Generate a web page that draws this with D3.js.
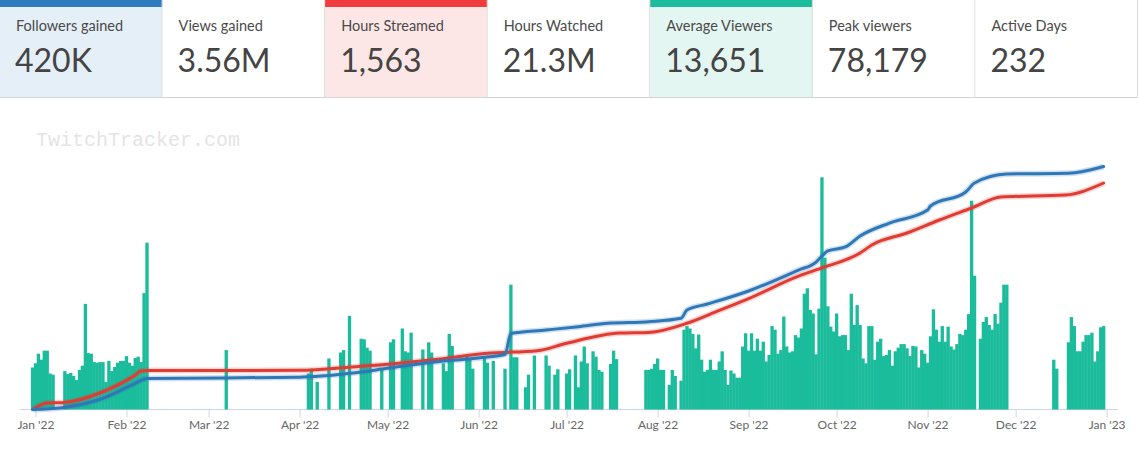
<!DOCTYPE html>
<html><head><meta charset="utf-8">
<script src="https://cdn.jsdelivr.net/npm/d3@7"></script>
<style>
html,body{margin:0;padding:0;background:#fff;}
svg{display:block;font-family:Lato,"Noto Sans",sans-serif;}
</style></head><body>
<svg id="chart" width="1138" height="450"></svg>
<script>
// ---------- summary cards ----------
const cardLabels = ["Followers gained","Views gained","Hours Streamed","Hours Watched","Average Viewers","Peak viewers","Active Days"];
const cardValues = ["420K","3.56M","1,563","21.3M","13,651","78,179","232"];
const cardAccents = ["#2f7bbf", null, "#f03c3c", null, "#1abc9c", null, null];
const cardBacks = ["#e5eff7","#ffffff","#fde6e6","#ffffff","#e4f6f1","#ffffff","#ffffff"];

// ---------- x axis ----------
const tickDates = ["2022-01-01","2022-02-01","2022-03-01","2022-04-01","2022-05-01","2022-06-01","2022-07-01","2022-08-01","2022-09-01","2022-10-01","2022-11-01","2022-12-01","2023-01-01"];
const tickLabels = ["Jan '22","Feb '22","Mar '22","Apr '22","May '22","Jun '22","Jul '22","Aug '22","Sep '22","Oct '22","Nov '22","Dec '22","Jan '23"];

// ---------- daily average viewers (thousands), runs of consecutive stream days ----------
const runStarts = ["2021-12-31","2022-01-11","2022-03-07","2022-04-04","2022-04-07","2022-04-11","2022-04-15","2022-04-18","2022-04-22","2022-04-29","2022-05-02","2022-05-06","2022-05-13","2022-05-15","2022-05-20","2022-05-28","2022-06-03","2022-06-06","2022-06-10","2022-06-12","2022-06-17","2022-06-20","2022-06-24","2022-06-27","2022-07-01","2022-07-04","2022-07-10","2022-07-16","2022-07-28","2022-08-05","2022-08-09","2022-11-19","2022-12-14","2022-12-19"];
const runValues = [
  [7.0,7.7,9.3,8.3,9.8,9.8,6.0,5.8],
  [6.4,5.9,6.1,5.6,4.9,6.6,7.3,17.6,9.4,9.3,7.9,7.8,7.9,7.9,4.6,8.1,6.4,7.1,7.8,8.1,8.1,8.9,7.8,7.3,8.6,8.8,7.9,19.4,27.8],
  [9.9],
  [6.0,6.8],
  [4.6],
  [8.5],
  [9.5,9.9],
  [15.6],
  [11.8,11.7,10.3,9.8],
  [6.9],
  [11.2,11.7],
  [13.5,9.7,9.5,12.8],
  [10.0],
  [11.2,9.5],
  [7.7,6.4,12.6,10.6],
  [8.8,8.5,6.8],
  [8.7,7.8],
  [8.1],
  [6.8],
  [20.8,8.7,8.7],
  [3.7,5.8],
  [9.0],
  [9.0,7.3],
  [5.8,6.7],
  [6.0,6.7],
  [9.0,3.7,8.0,10.5,7.7],
  [9.7,8.8,6.6,6.3],
  [7.6,9.8,8.4],
  [6.6,6.6,6.8,7.6,8.5,6.6,6.6],
  [4.1,6.6,5.6],
  [4.8,13.3,13.9,13.5,12.6,10.2,12.5,8.3,6.3,6.6,8.3,6.6,6.6,8.0,9.7,6.6,4.1,6.5,6.0,5.3,5.3,
   10.5,12.7,9.8,12.7,9.8,11.8,9.8,11.3,8.0,9.1,13.9,13.3,9.3,9.9,15.5,10.5,9.5,9.7,12.4,12.0,13.5,19.3,20.2,16.6,16.0,9.2,16.8,38.7,25.3,
   17.2,13.8,13.0,16.0,12.2,12.4,12.4,9.9,19.3,14.1,17.4,14.1,8.5,7.7,13.9,13.9,8.3,11.3,11.8,8.9,9.1,9.9,7.3,9.7,10.3,10.9,10.9,10.2,8.9,10.6,10.5,7.0,9.9,9.3,7.8,12.2,16.7,13.3,11.3,13.9,11.3,13.8,10.5,10.0,10.9,12.6,12.4,13.3,15.9,
   34.8,22.3],
  [11.8,14.6,15.4,14.1,13.3,15.9,14.3,17.8,20.8,20.8],
  [8.3,6.8],
  [11.2,15.4,13.9,9.7,9.7,11.3,12.4,12.4,12.8,8.0,9.7,13.7,13.9]
];

// ---------- cumulative followers (thousands) ----------
const followerDates = ["2021-12-31","2022-01-10","2022-01-24","2022-02-04","2022-02-08","2022-04-01","2022-04-05","2022-04-20","2022-05-01","2022-05-18","2022-06-04","2022-06-10","2022-06-12","2022-06-24","2022-07-05","2022-07-15","2022-07-29","2022-08-09","2022-08-11","2022-08-18","2022-09-01","2022-09-18","2022-09-24","2022-09-26","2022-09-28","2022-10-04","2022-10-09","2022-10-19","2022-11-01","2022-11-02","2022-11-14","2022-11-17","2022-11-28","2022-12-19","2022-12-31"];
const followerValues = [0,3.1,19.4,45.3,53.6,55.7,56.7,63.6,71.2,82.6,90.7,95.1,131.4,137.4,143.1,149.0,151.8,157.6,172.0,182.3,204.8,241.1,254.9,265.3,274.0,280.9,299.9,322.3,344.8,351.7,375.9,391.5,407.0,408.3,420];

// ---------- cumulative hours watched (millions) ----------
const hoursDates = ["2021-12-31","2022-01-05","2022-01-10","2022-01-24","2022-02-04","2022-02-06","2022-02-08","2022-04-01","2022-04-20","2022-05-01","2022-05-18","2022-06-04","2022-06-21","2022-07-01","2022-07-19","2022-07-29","2022-08-11","2022-08-21","2022-08-31","2022-09-18","2022-09-26","2022-10-09","2022-10-13","2022-10-25","2022-11-05","2022-11-16","2022-11-26","2022-12-18","2022-12-31"];
const hoursValues = [0,0.61,0.64,1.67,3.24,3.62,3.67,3.68,4.02,4.25,4.72,5.29,5.53,6.23,7.19,7.25,8.11,9.20,10.30,12.55,13.31,14.72,15.47,16.60,17.82,18.95,19.98,20.17,21.30];

// ================= drawing =================
const svg = d3.select("#chart");
const W = 1138;
const parse = d3.utcParse("%Y-%m-%d");

// ---- cards ----
const cardW = W / cardLabels.length;
const cards = svg.append("g");
cardLabels.forEach((lab, i) => {
  const g = cards.append("g").attr("transform", `translate(${i*cardW},0)`);
  g.append("rect").attr("width", cardW).attr("height", 98).attr("fill", cardBacks[i]);
  if (cardAccents[i]) g.append("rect").attr("width", cardW).attr("height", 7).attr("fill", cardAccents[i]);
  g.append("line").attr("x1", cardW-0.5).attr("x2", cardW-0.5).attr("y1", 0).attr("y2", 98)
    .attr("stroke", "#d9d9d9").attr("stroke-width", 1);
  g.append("text").attr("x", 16).attr("y", 31).attr("font-size", 14.5).attr("fill", "#4a4a4a").text(lab);
  g.append("text").attr("x", 15).attr("y", 71.5).attr("font-size", 32).attr("fill", "#444").text(cardValues[i]);
});
svg.append("line").attr("x1", 0).attr("x2", W).attr("y1", 97.5).attr("y2", 97.5)
  .attr("stroke", "#d4d4d4").attr("stroke-width", 1);

// ---- watermark ----
svg.append("text").attr("x", 36).attr("y", 146).attr("font-family", "'Liberation Mono','DejaVu Sans Mono',monospace")
  .attr("font-size", 20).attr("fill", "#e4e4e4").text("TwitchTracker.com");

// ---- scales ----
const base = 409.5;
const x = d3.scaleUtc().domain([parse("2022-01-01"), parse("2023-01-01")]).range([35.5, 1106.6]);
const yBar = d3.scaleLinear().domain([0, 40]).range([base, base - 240]);
const yFol = d3.scaleLinear().domain([0, 420]).range([base, 166.5]);
const yHrs = d3.scaleLinear().domain([0, 21.3]).range([base, 183]);
const dayW = x(parse("2022-01-02")) - x(parse("2022-01-01"));

const bars = [];
runStarts.forEach((s, i) => {
  const d0 = parse(s);
  runValues[i].forEach((v, j) => bars.push({date: d3.utcDay.offset(d0, j), v}));
});

// ---- axis ----
svg.append("line").attr("x1", 20).attr("x2", 1118).attr("y1", base).attr("y2", base)
  .attr("stroke", "#ccd6eb").attr("stroke-width", 1);
const axis = d3.axisBottom(x)
  .tickValues(tickDates.map(parse))
  .tickFormat((d, i) => tickLabels[i])
  .tickSize(8).tickPadding(3);
const ax = svg.append("g").attr("transform", `translate(0,${base})`).call(axis);
ax.select(".domain").remove();
ax.selectAll(".tick line").attr("stroke", "#ccd6eb");
ax.selectAll(".tick text").attr("fill", "#666").attr("font-size", 12).attr("font-family", "Lato,'Noto Sans',sans-serif");

// ---- bars ----
svg.append("g").selectAll("rect").data(bars).join("rect")
  .attr("x", d => x(d.date) - dayW/2 - 0.2)
  .attr("width", dayW + 0.4)
  .attr("y", d => yBar(d.v))
  .attr("height", d => base - yBar(d.v))
  .attr("fill", "#1abc9c");

// ---- lines ----
function drawLine(dates, vals, y, color) {
  const pts = dates.map((d, i) => ({date: parse(d), v: vals[i]}));
  const gen = d3.line().x(d => x(d.date)).y(d => y(d.v)).curve(d3.curveMonotoneX);
  svg.append("path").attr("d", gen(pts)).attr("fill", "none").attr("stroke", color)
    .attr("stroke-opacity", 0.22).attr("stroke-width", 6).attr("stroke-linejoin", "round");
  svg.append("path").attr("d", gen(pts)).attr("fill", "none").attr("stroke", color)
    .attr("stroke-width", 3).attr("stroke-linejoin", "round").attr("stroke-linecap", "round");
}
drawLine(hoursDates, hoursValues, yHrs, "#e03c33");
drawLine(followerDates, followerValues, yFol, "#2f78b7");
</script>
</body></html>
